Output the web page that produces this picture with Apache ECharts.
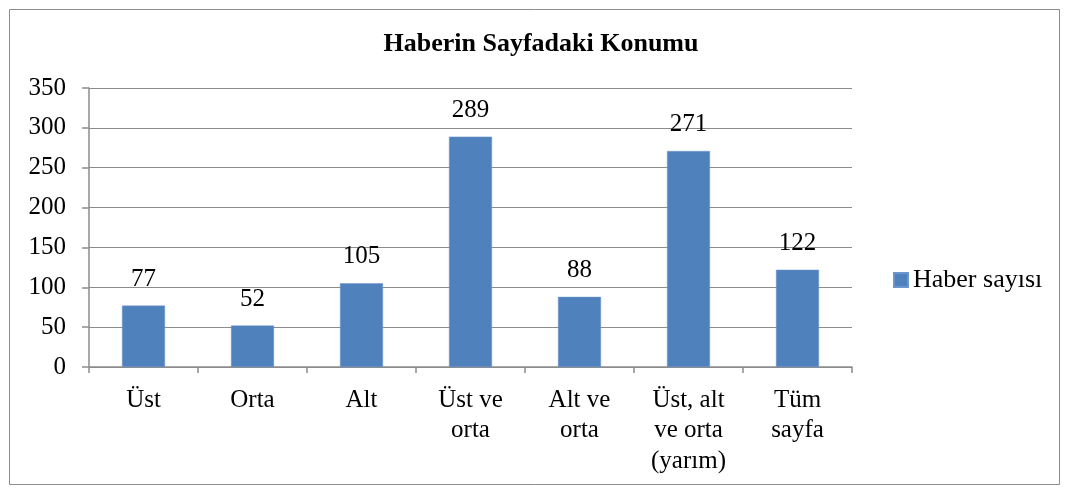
<!DOCTYPE html>
<html>
<head>
<meta charset="utf-8">
<title>Haberin Sayfadaki Konumu</title>
<script src="https://cdn.jsdelivr.net/npm/echarts@6/dist/echarts.min.js"></script>
<style>
  html, body { margin: 0; padding: 0; background: #fff; }
  #chart { width: 1068px; height: 493px; }
</style>
</head>
<body>
<div id="chart"></div>
<script>
// data
var categories = ['Üst', 'Orta', 'Alt', 'Üst ve\norta', 'Alt ve\norta', 'Üst, alt\nve orta\n(yarım)', 'Tüm\nsayfa'];
var haberSayisi = [77, 52, 105, 289, 88, 271, 122];
var seriesName = 'Haber sayısı';

var serif = '"Liberation Serif", "Times New Roman", serif';
var myChart = echarts.init(document.getElementById('chart'));

var option = {
  backgroundColor: '#fff',
  animation: false,
  graphic: [{
    type: 'rect',
    shape: { x: 9.5, y: 9.5, width: 1050, height: 475 },
    style: { fill: 'none', stroke: '#8c8c8c', lineWidth: 1 }
  }],
  title: {
    text: 'Haberin Sayfadaki Konumu',
    left: 536,
    textAlign: 'center',
    top: 26,
    textStyle: { fontFamily: serif, fontSize: 26, fontWeight: 'bold', color: '#000' }
  },
  legend: {
    left: 888,
    top: 262,
    itemWidth: 14,
    itemHeight: 14,
    itemGap: 6,
    icon: 'rect',
    textStyle: { fontFamily: serif, fontSize: 26, color: '#000' },
    data: [seriesName]
  },
  grid: { left: 89, right: 216, top: 88, bottom: 126, containLabel: false },
  xAxis: {
    type: 'category',
    data: categories,
    axisLine: { lineStyle: { color: '#8c8c8c', width: 1.5 } },
    axisTick: { show: true, length: 6, lineStyle: { color: '#8c8c8c', width: 1.5 } },
    axisLabel: { fontFamily: serif, fontSize: 25, color: '#000', lineHeight: 30.5, margin: 18, interval: 0 }
  },
  yAxis: {
    type: 'value',
    min: 0,
    max: 350,
    interval: 50,
    axisLine: { show: true, lineStyle: { color: '#8c8c8c', width: 1.5 } },
    axisTick: { show: true, length: 7, lineStyle: { color: '#8c8c8c', width: 1.5 } },
    splitLine: { lineStyle: { color: '#8c8c8c', width: 1.2 } },
    axisLabel: { fontFamily: serif, fontSize: 25, color: '#000', margin: 23 }
  },
  series: [{
    name: seriesName,
    type: 'bar',
    data: haberSayisi,
    barWidth: 43,
    itemStyle: { color: '#4F81BD', borderColor: '#6d97cc', borderWidth: 0.5 },
    label: { show: true, position: 'top', distance: 14, fontFamily: serif, fontSize: 25, color: '#000' }
  }]
};

myChart.setOption(option);
</script>
</body>
</html>
